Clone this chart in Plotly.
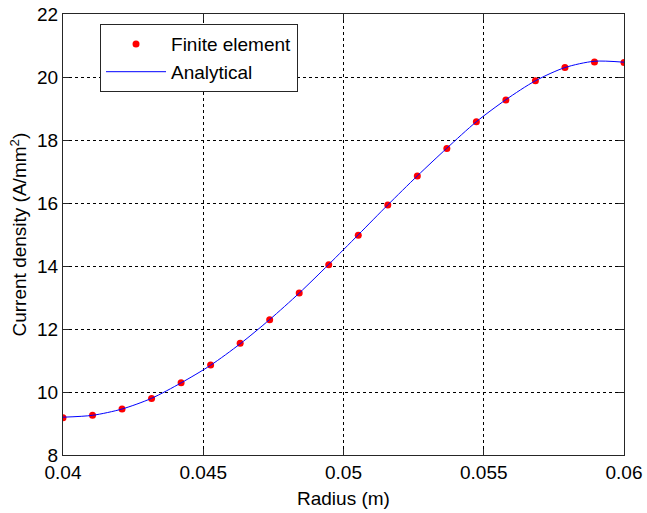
import plotly.graph_objects as go

radius = [0.04 + k * 0.02 / 19 for k in range(20)]
fe_values = [9.18, 9.26, 9.46, 9.79, 10.29, 10.86, 11.55, 12.29, 13.14, 14.04,
             14.98, 15.94, 16.86, 17.73, 18.58, 19.27, 19.88, 20.30, 20.48, 20.46]
analytical_values = [9.20, 9.26, 9.46, 9.80, 10.29, 10.85, 11.53, 12.30, 13.14, 14.05,
                     14.99, 15.94, 16.86, 17.74, 18.58, 19.28, 19.88, 20.30, 20.50, 20.47]

xticks = [0.04, 0.045, 0.05, 0.055, 0.06]
xtick_text = ["0.04", "0.045", "0.05", "0.055", "0.06"]
yticks = [8, 10, 12, 14, 16, 18, 20, 22]

font = "Liberation Sans, Arial, Helvetica, sans-serif"

fig = go.Figure()
fig.add_trace(go.Scatter(x=radius, y=fe_values, mode="markers", name="Finite element",
                         marker=dict(color="#ff0000", size=7)))
fig.add_trace(go.Scatter(x=radius, y=analytical_values, mode="lines", name="Analytical",
                         line=dict(color="#0000ff", width=1, shape="spline", smoothing=0.8)))

axis_common = dict(showline=True, linecolor="#262626", linewidth=1, mirror="ticks",
                   ticks="inside", ticklen=6, tickcolor="#262626", automargin=False,
                   showgrid=True, gridcolor="#000000", gridwidth=1, griddash="dot",
                   zeroline=False, tickfont=dict(family=font, size=19, color="#000"))

fig.update_xaxes(range=[0.04, 0.06], tickvals=xticks, ticktext=xtick_text, **axis_common)
fig.update_yaxes(range=[8, 22], tickvals=yticks, **axis_common)

fig.add_annotation(text="Radius (m)", xref="paper", yref="paper", x=0.5, y=0,
                   yshift=-31, xanchor="center", yanchor="top", showarrow=False,
                   font=dict(family=font, size=19, color="#000"))
fig.add_annotation(text="Current density (A/mm<sup>2</sup>)", xref="paper", yref="paper",
                   x=0, y=0.5, xshift=-45, xanchor="center", yanchor="middle",
                   textangle=-90, showarrow=False,
                   font=dict(family=font, size=19, color="#000"))

fig.update_layout(
    width=647, height=513,
    margin=dict(l=63, r=23, t=14, b=58),
    plot_bgcolor="white", paper_bgcolor="white",
    font=dict(family=font, size=19, color="#000"),
    legend=dict(x=0.066, y=0.977, xanchor="left", yanchor="top",
                bgcolor="white", bordercolor="#262626", borderwidth=1,
                itemwidth=60, font=dict(family=font, size=19),
                tracegroupgap=0),
)

fig.write_html("out.html", config={"displayModeBar": False},
               post_script="document.body.style.margin='0';")
